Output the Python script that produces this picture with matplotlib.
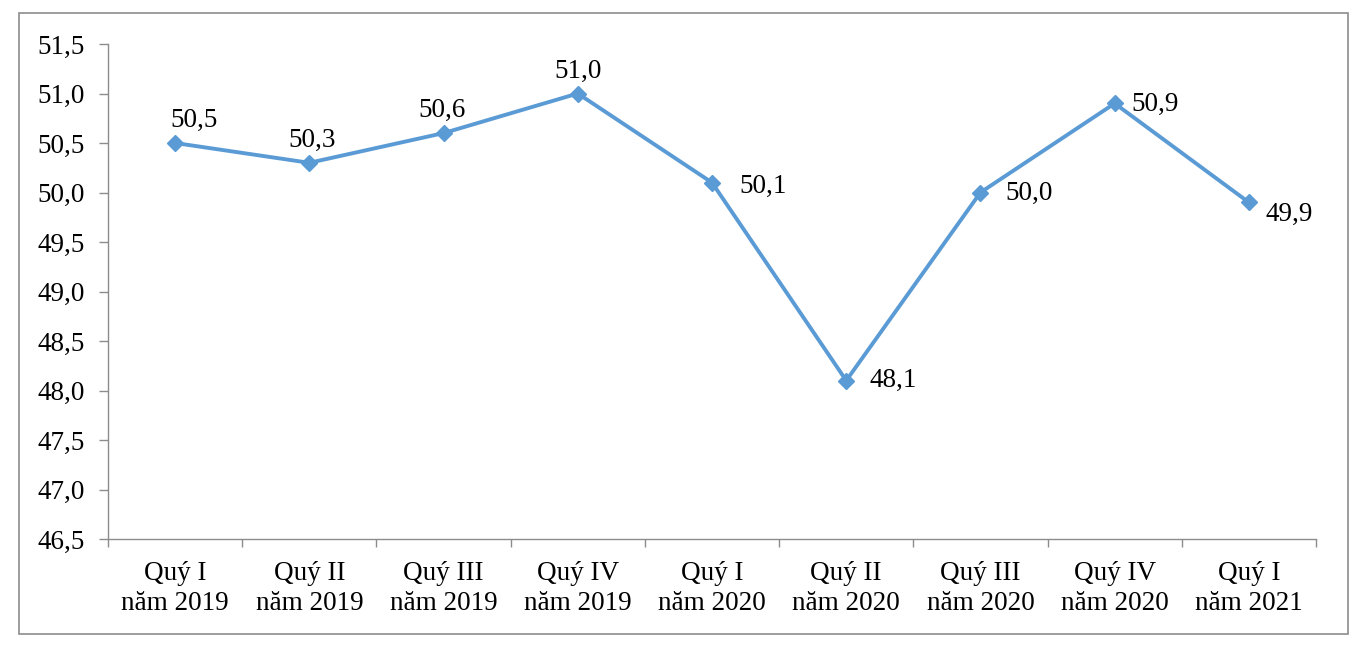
import matplotlib.pyplot as plt
from matplotlib.patches import Rectangle

categories = ["Quý I\nnăm 2019", "Quý II\nnăm 2019", "Quý III\nnăm 2019", "Quý IV\nnăm 2019",
              "Quý I\nnăm 2020", "Quý II\nnăm 2020", "Quý III\nnăm 2020", "Quý IV\nnăm 2020",
              "Quý I\nnăm 2021"]
values = [50.5, 50.3, 50.6, 51.0, 50.1, 48.1, 50.0, 50.9, 49.9]
y_ticks = [46.5, 47.0, 47.5, 48.0, 48.5, 49.0, 49.5, 50.0, 50.5, 51.0, 51.5]

# label offsets in points (dx, dy) and alignment
label_pos = [(14, 7, "center", "bottom"), (2, 7, "center", "bottom"), (-1, 7, "center", "bottom"),
             (0, 7, "center", "bottom"), (20, -3, "left", "center"), (17, 0, "left", "center"),
             (18, -1, "left", "center"), (12, -1, "left", "center"), (12, -9, "left", "center")]

plt.rcParams['font.family'] = ['Liberation Serif', 'DejaVu Serif']
line_color = "#5B9BD5"
grey = "#8C8C8C"
fs = 19.5

fig = plt.figure(figsize=(13.58, 6.54), dpi=100)
W, H = 1358, 654
ax = fig.add_axes([108 / W, 1 - 539 / H, (1316 - 108) / W, (539 - 44) / H])

x = list(range(len(values)))
ax.plot(x, values, color=line_color, linewidth=2.8, marker="D", markersize=8,
        markerfacecolor=line_color, markeredgecolor=line_color)

for xi, v, (dx, dy, ha, va) in zip(x, values, label_pos):
    ax.annotate(f"{v:.1f}".replace(".", ","), (xi, v), xytext=(dx, dy), textcoords="offset points",
                ha=ha, va=va, fontsize=fs, color="black")

ax.set_xlim(-0.5, len(values) - 0.5)
ax.set_ylim(46.5, 51.5)
ax.set_yticks(y_ticks)
ax.set_yticklabels([f"{t:.1f}".replace(".", ",") for t in y_ticks])
ax.set_xticks(x)
ax.set_xticklabels(categories, linespacing=1.25)
ax.set_xticks([i - 0.5 for i in range(len(values) + 1)], minor=True)

ax.tick_params(axis="x", which="major", length=0, pad=16, labelsize=fs)
ax.tick_params(axis="x", which="minor", length=6, width=1, color=grey, direction="out")
ax.tick_params(axis="y", length=6.5, width=1, color=grey, pad=10, labelsize=fs)

for side in ["top", "right"]:
    ax.spines[side].set_visible(False)
for side in ["left", "bottom"]:
    ax.spines[side].set_color(grey)
    ax.spines[side].set_linewidth(1)

fig.add_artist(Rectangle((19 / W, 1 - 634 / H), (1348 - 19) / W, (634 - 13) / H,
                         transform=fig.transFigure, fill=False, edgecolor=grey, linewidth=1.2))

fig.savefig("out.png", dpi=100)
